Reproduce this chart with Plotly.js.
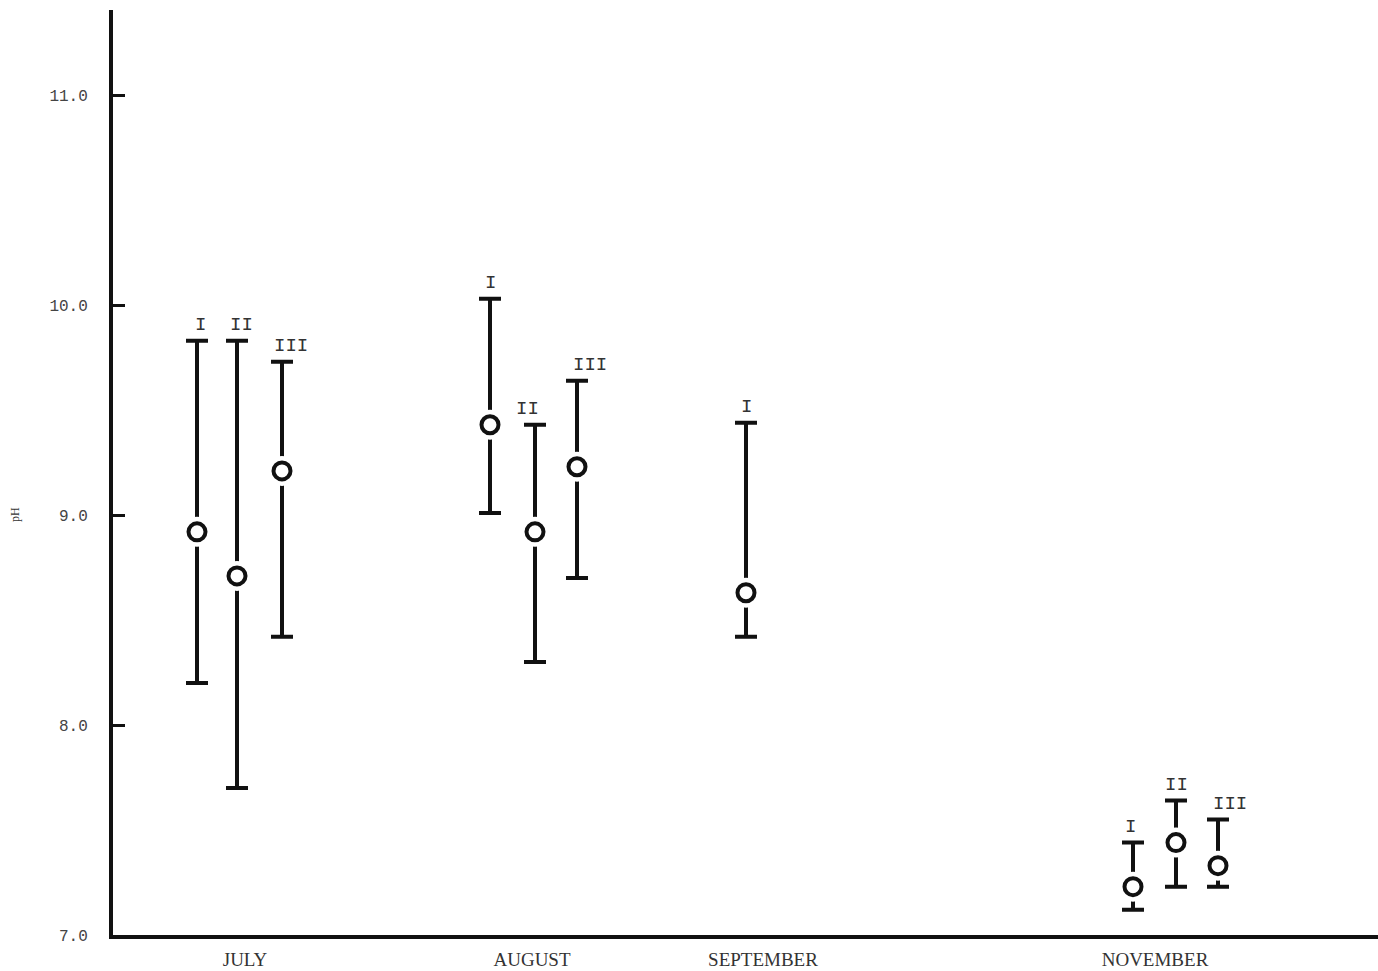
<!DOCTYPE html>
<html><head><meta charset="utf-8">
<script src="https://cdn.plot.ly/plotly-3.0.1.min.js"></script>
<style>html,body{margin:0;padding:0;background:#fff}#chart{width:1378px;height:971px}</style>
</head><body><div id="chart"></div>
<script>
// Groups (month, station)
const stations = ["I","II","III","I","II","III","I","I","II","III"];
const xPos =     [84, 124, 169, 377, 422, 464, 633, 1020, 1063, 1105];
const meanPH =   [8.92, 8.71, 9.21, 9.43, 8.92, 9.23, 8.63, 7.23, 7.44, 7.33];
const highPH =   [9.83, 9.83, 9.73, 10.03, 9.43, 9.64, 9.44, 7.44, 7.64, 7.55];
const lowPH =    [8.20, 7.70, 8.42, 9.01, 8.30, 8.70, 8.42, 7.12, 7.23, 7.23];
const monthLabels = ["JULY","AUGUST","SEPTEMBER","NOVEMBER"];
const monthPos = [132, 419, 650, 1042];
const yTicks = [7, 8, 9, 10, 11];
const yTickText = ["7.0","8.0","9.0","10.0","11.0"];
const labelShift = [3, 4, 9, 0, -8, 13, 0, -3, 0, 12];

const errPlus = highPH.map((h,i)=>h-meanPH[i]);
const errMinus = meanPH.map((m,i)=>m-lowPH[i]);

const traces = [
  {x:xPos, y:meanPH, type:'scatter', mode:'markers', marker:{size:1,color:'rgba(0,0,0,0)'},
   error_y:{type:'data', symmetric:false, array:errPlus, arrayminus:errMinus, color:'#111', thickness:4, width:11},
   hoverinfo:'skip'},
  {x:xPos, y:meanPH, type:'scatter', mode:'markers', marker:{size:30,color:'#fff',line:{width:0}}, hoverinfo:'skip'},
  {x:xPos, y:meanPH, type:'scatter', mode:'markers', marker:{symbol:'circle',size:17,color:'#fff',line:{width:4,color:'#111'}}}
];

const annotations = stations.map((s,i)=>({
  x:xPos[i], y:highPH[i], xref:'x', yref:'y', text:s, showarrow:false,
  yanchor:'bottom', yshift:3, xshift:labelShift[i],
  font:{family:'Liberation Mono, DejaVu Sans Mono, monospace', size:19, color:'#333'}
}));
annotations.push({xref:'paper', yref:'paper', x:0, y:0.454, xshift:-107, text:'pH', textangle:-90,
  showarrow:false, font:{family:'Liberation Serif, serif', size:12, color:'#333'}});

const layout = {
  width:1378, height:971,
  margin:{l:113, r:0, t:10, b:36},
  paper_bgcolor:'#fff', plot_bgcolor:'#fff',
  showlegend:false,
  xaxis:{range:[0,1265], showgrid:false, zeroline:false, showline:true, linecolor:'#111', linewidth:4,
    tickmode:'array', tickvals:monthPos, ticktext:monthLabels, ticks:'', ticklabelstandoff:4,
    tickfont:{family:'Liberation Serif, DejaVu Serif, serif', size:19, color:'#333'}},
  yaxis:{range:[7,11.405], showgrid:false, zeroline:false, showline:true, linecolor:'#111', linewidth:4,
    tickmode:'array', tickvals:yTicks, ticktext:yTickText, ticks:'inside', ticklen:12, tickwidth:3, tickcolor:'#111',
    ticklabelstandoff:18,
    tickfont:{family:'Liberation Mono, DejaVu Sans Mono, monospace', size:16, color:'#444'}},
  annotations:annotations
};
Plotly.newPlot('chart', traces, layout, {displayModeBar:false, staticPlot:true});
</script></body></html>
